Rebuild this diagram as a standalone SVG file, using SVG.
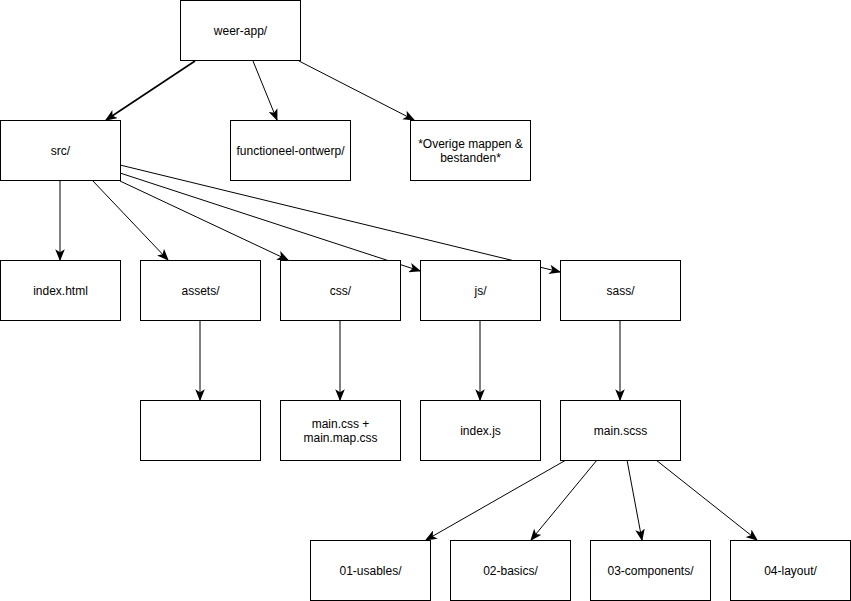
<svg xmlns="http://www.w3.org/2000/svg" width="851" height="601" viewBox="0 0 851 601">
<style>
.n rect{fill:#fff;stroke:#000;stroke-width:1}
.n text{font-family:"Liberation Sans",Arial,sans-serif;font-size:12px;fill:#000;text-anchor:middle}
.e line{stroke:#000;stroke-width:1;fill:none;marker-end:url(#a)}
</style>
<defs>
<marker id="a" markerUnits="userSpaceOnUse" markerWidth="12" markerHeight="10" viewBox="0 0 10 8" refX="9" refY="4" orient="auto">
<path d="M0,0 L10,4 L0,8 L2.5,4 Z" fill="#000"/>
</marker>
</defs>
<rect width="851" height="601" fill="#fff"/>
<g id="edges" class="e">
<line x1="195" y1="61" x2="106" y2="120" style="stroke-width:1.6"/>
<line x1="253" y1="61" x2="277" y2="120"/>
<line x1="299" y1="61" x2="414" y2="120"/>
<line x1="60" y1="180" x2="60" y2="260"/>
<line x1="92" y1="180" x2="168" y2="260"/>
<line x1="120" y1="181" x2="288" y2="260"/>
<line x1="120" y1="173" x2="420" y2="271"/>
<line x1="120" y1="165" x2="560" y2="272"/>
<line x1="200" y1="320" x2="200" y2="400"/>
<line x1="340" y1="320" x2="340" y2="400"/>
<line x1="480" y1="320" x2="480" y2="400"/>
<line x1="620" y1="320" x2="620" y2="400"/>
<line x1="566" y1="460" x2="426" y2="540"/>
<line x1="597" y1="460" x2="531" y2="540"/>
<line x1="627" y1="460" x2="642" y2="540"/>
<line x1="656" y1="460" x2="757" y2="540"/>
</g>
<g id="weer-app" class="n"><rect x="180.5" y="0.5" width="120" height="60"/><text x="240.5" y="35">weer-app/</text></g>
<g id="src" class="n"><rect x="0.5" y="120.5" width="120" height="60"/><text x="60.5" y="155">src/</text></g>
<g id="functioneel-ontwerp" class="n"><rect x="230.5" y="120.5" width="120" height="60"/><text x="290.5" y="155">functioneel-ontwerp/</text></g>
<g id="overige" class="n"><rect x="410.5" y="120.5" width="120" height="60"/><text x="470.5" y="148">*Overige mappen &amp;</text><text x="470.5" y="162">bestanden*</text></g>
<g id="index-html" class="n"><rect x="0.5" y="260.5" width="120" height="60"/><text x="60.5" y="295">index.html</text></g>
<g id="assets" class="n"><rect x="140.5" y="260.5" width="120" height="60"/><text x="200.5" y="295">assets/</text></g>
<g id="css" class="n"><rect x="280.5" y="260.5" width="120" height="60"/><text x="340.5" y="295">css/</text></g>
<g id="js" class="n"><rect x="420.5" y="260.5" width="120" height="60"/><text x="480.5" y="295">js/</text></g>
<g id="sass" class="n"><rect x="560.5" y="260.5" width="120" height="60"/><text x="620.5" y="295">sass/</text></g>
<g id="assets-child" class="n"><rect x="140.5" y="400.5" width="120" height="60"/></g>
<g id="main-css" class="n"><rect x="280.5" y="400.5" width="120" height="60"/><text x="340.5" y="428">main.css +</text><text x="340.5" y="442">main.map.css</text></g>
<g id="index-js" class="n"><rect x="420.5" y="400.5" width="120" height="60"/><text x="480.5" y="435">index.js</text></g>
<g id="main-scss" class="n"><rect x="560.5" y="400.5" width="120" height="60"/><text x="620.5" y="435">main.scss</text></g>
<g id="usables" class="n"><rect x="310.5" y="540.5" width="120" height="60"/><text x="370.5" y="575">01-usables/</text></g>
<g id="basics" class="n"><rect x="450.5" y="540.5" width="120" height="60"/><text x="510.5" y="575">02-basics/</text></g>
<g id="components" class="n"><rect x="590.5" y="540.5" width="120" height="60"/><text x="650.5" y="575">03-components/</text></g>
<g id="layout" class="n"><rect x="730.5" y="540.5" width="120" height="60"/><text x="790.5" y="575">04-layout/</text></g>
</svg>
